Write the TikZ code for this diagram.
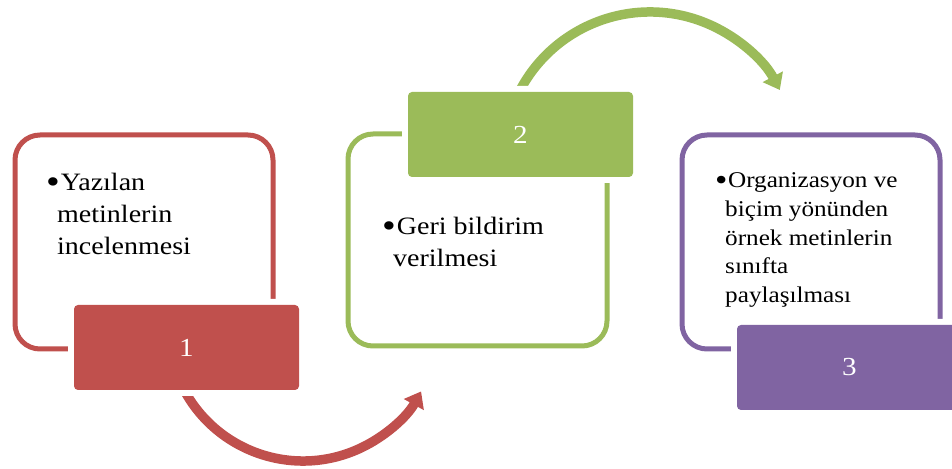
\documentclass[tikz,border=0pt]{standalone}
\usepackage{fontspec}
\usepackage{graphicx}
\setmainfont[FakeStretch=1.12]{Liberation Serif}
\usetikzlibrary{arrows.meta}
\definecolor{cred}{HTML}{C0504D}
\definecolor{cgreen}{HTML}{9BBB59}
\definecolor{cpurple}{HTML}{8064A2}
\newcommand{\blt}{\raisebox{-3pt}{\scalebox{1.4}{•}}}
\begin{document}
\begin{tikzpicture}[x=1pt,y=1pt,
  frame/.style={line width=5pt, rounded corners=25pt},
  numbox/.style={fill=#1, rounded corners=4pt, minimum width=225pt, minimum height=85pt,
    inner sep=0pt, text=white, font=\fontsize{26}{30}\selectfont,
    preaction={draw=white, line width=12pt}},
  body/.style={anchor=base west, align=left, inner sep=0pt, font=\fontsize{25}{32}\selectfont},
  smallbody/.style={body, font=\fontsize{22.5}{28.7}\selectfont},
  flow/.style={line width=9.5pt, -{Triangle[width=22pt,length=15pt]}}]
\useasboundingbox (0,0) rectangle (952,468);
\clip (0,0) rectangle (952,468);
% outline frames
\draw[frame, cred] (15,119) rectangle (273,333);
\draw[frame, cgreen] (348,122) rectangle (607,334);
\draw[frame, cpurple] (682,119) rectangle (940,333);
% arrows
\coordinate (r0) at ({303+135*cos(205)},{142+135*sin(205)});
\draw[flow, cred] (r0) arc[start angle=205, end angle=331, radius=135];
\coordinate (g0) at ({650+147*cos(156)},{309+147*sin(156)});
\draw[flow, cgreen] (g0) arc[start angle=156, end angle=28, radius=147];
% numbered boxes
\node[numbox=cred] (n1) at (186.5,120.5) {1};
\node[numbox=cgreen] (n2) at (520.5,333.5) {2};
\node[numbox=cpurple] (n3) at (849.5,100.5) {3};
% texts
\node[body] (t1) at (57,213) {\hspace*{-11pt}\blt\hspace{1pt}Yazılan\\metinlerin\\incelenmesi};
\node[body] (t2) at (393,201.3) {\hspace*{-11pt}\blt\hspace{1pt}Geri bildirim\\verilmesi};
\node[smallbody] (t3) at (725,165.3) {\hspace*{-10pt}\blt\hspace{0.5pt}Organizasyon ve\\biçim yönünden\\örnek metinlerin\\sınıfta\\paylaşılması};
\end{tikzpicture}
\end{document}
